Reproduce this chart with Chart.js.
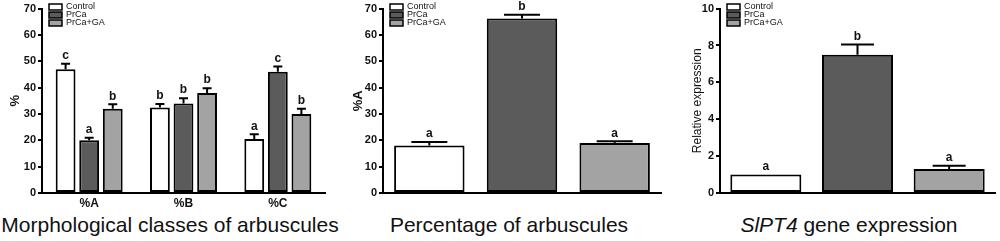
<!DOCTYPE html>
<html lang="en">
<head>
<meta charset="utf-8" />
<script src="https://cdn.jsdelivr.net/npm/chart.js@4.4.1/dist/chart.umd.min.js"></script>
<title>Arbuscules</title>
<style>
  body { margin: 0; background: #fff; width: 1000px; height: 241px; position: relative; overflow: hidden; }
  canvas { position: absolute; top: 0; }
  .cap { position: absolute; top: 213px; height: 26px; line-height: 26px; font: 21px "Liberation Sans", Arial, sans-serif; color: #111; text-align: center; white-space: nowrap; }
</style>
</head>
<body>
<canvas id="g1" width="335" height="212" style="left:0px"></canvas>
<canvas id="g2" width="330" height="212" style="left:340px"></canvas>
<canvas id="g3" width="330" height="212" style="left:670px"></canvas>
<div class="cap" style="left:0px;width:340px">Morphological classes of arbuscules</div>
<div class="cap" style="left:340px;width:338px">Percentage of arbuscules</div>
<div class="cap" style="left:670px;width:358px"><i>SlPT4</i> gene expression</div>
<script>
const groupNames = ["Control", "PrCa", "PrCa+GA"];
const groupFills = ["#ffffff", "#5b5b5b", "#a3a3a3"];

// panel 1 - morphological classes
const classLabels = ["%A", "%B", "%C"];
const classControl = [47, 32.5, 20.5];
const classControlErr = [2.1, 1.3, 1.8];
const classControlSig = ["c", "b", "a"];
const classPrCa = [20, 34, 46];
const classPrCaErr = [1, 2, 2];
const classPrCaSig = ["a", "b", "c"];
const classPrCaGA = [32, 38, 30];
const classPrCaGAErr = [1.7, 1.8, 2];
const classPrCaGASig = ["b", "b", "b"];

// panel 2 - percentage of arbuscules
const pctValues = [18, 66.2, 19];
const pctErr = [1.4, 1.5, 0.6];
const pctSig = ["a", "b", "a"];

// panel 3 - SlPT4 expression
const exprValues = [1.0, 7.5, 1.3];
const exprErr = [0, 0.55, 0.18];
const exprSig = ["a", "b", "a"];

const FONT = "'Liberation Sans', Arial, sans-serif";
Chart.defaults.font.family = FONT;
Chart.defaults.color = "#111";

// error bars + letters above each bar
const errPlugin = {
  id: "errBars",
  afterDatasetsDraw(chart, args, opts) {
    const ctx = chart.ctx;
    const y = chart.scales.y;
    ctx.save();
    chart.data.datasets.forEach((ds, di) => {
      const meta = chart.getDatasetMeta(di);
      meta.data.forEach((bar, i) => {
        const e = ds.errors[i];
        const top = y.getPixelForValue(ds.data[i] + e);
        if (e > 0) {
          ctx.strokeStyle = "#000";
          ctx.lineWidth = 2;
          ctx.beginPath();
          ctx.moveTo(bar.x, bar.y);
          ctx.lineTo(bar.x, top);
          ctx.moveTo(bar.x - opts.capW / 2, top);
          ctx.lineTo(bar.x + opts.capW / 2, top);
          ctx.stroke();
        }
        ctx.fillStyle = "#111";
        ctx.font = "bold 12px " + FONT;
        ctx.textAlign = "center";
        ctx.textBaseline = "bottom";
        ctx.fillText(ds.sig[i], bar.x, top - 2);
      });
    });
    ctx.restore();
  }
};

// small boxed legend inside top-left of the plot
const boxLegend = {
  id: "boxLegend",
  afterDraw(chart, args, opts) {
    const ctx = chart.ctx;
    const x0 = chart.chartArea.left + opts.dx;
    ctx.save();
    groupNames.forEach((name, i) => {
      const yc = 7 + i * 8;
      ctx.fillStyle = groupFills[i];
      ctx.fillRect(x0, yc - 3, 13, 6);
      ctx.strokeStyle = "#000";
      ctx.lineWidth = 1.5;
      ctx.strokeRect(x0, yc - 3, 13, 6);
      ctx.fillStyle = "#111";
      ctx.font = "9px " + FONT;
      ctx.textAlign = "left";
      ctx.textBaseline = "middle";
      ctx.fillText(name, x0 + 17, yc);
    });
    ctx.restore();
  }
};

function yScale(max, step, title, titleFont, width, titlePad) {
  return {
    min: 0, max: max,
    ticks: { stepSize: step, font: { size: 11, weight: "bold" }, color: "#111", padding: 2 },
    grid: { drawOnChartArea: false, drawTicks: true, tickLength: 4, color: "#000", lineWidth: 2 },
    border: { color: "#000", width: 2 },
    title: { display: true, text: title, font: titleFont, color: "#111", padding: { top: titlePad, bottom: 0 } },
    afterFit: (s) => { s.width = width; }
  };
}

function barStyle(fill) {
  return { backgroundColor: fill, borderColor: "#000", borderWidth: 2, borderSkipped: false };
}

const hiddenX = {
  grid: { display: false, drawTicks: false },
  border: { color: "#000", width: 2 },
  ticks: { display: false },
  afterFit: (s) => { s.height = 19; }
};

const baseOpts = {
  responsive: false,
  animation: false,
  plugins: { legend: { display: false }, tooltip: { enabled: false } }
};

new Chart(document.getElementById("g1"), {
  type: "bar",
  data: {
    labels: classLabels,
    datasets: [
      Object.assign({ label: groupNames[0], data: classControl, errors: classControlErr, sig: classControlSig }, barStyle(groupFills[0])),
      Object.assign({ label: groupNames[1], data: classPrCa, errors: classPrCaErr, sig: classPrCaSig }, barStyle(groupFills[1])),
      Object.assign({ label: groupNames[2], data: classPrCaGA, errors: classPrCaGAErr, sig: classPrCaGASig }, barStyle(groupFills[2]))
    ]
  },
  options: Object.assign({}, baseOpts, {
    categoryPercentage: 0.75,
    barPercentage: 0.84,
    layout: { padding: { top: 8, right: 10, left: 0, bottom: 0 } },
    scales: {
      x: {
        grid: { display: false, drawTicks: false },
        border: { color: "#000", width: 2 },
        ticks: { font: { size: 12, weight: "bold" }, color: "#111", padding: 3 },
        afterFit: (s) => { s.height = 19; }
      },
      y: yScale(70, 10, "%", { size: 13, weight: "bold" }, 42, 8)
    },
    plugins: Object.assign({}, baseOpts.plugins, { errBars: { capW: 9 }, boxLegend: { dx: 7 } })
  }),
  plugins: [errPlugin, boxLegend]
});

new Chart(document.getElementById("g2"), {
  type: "bar",
  data: {
    labels: groupNames,
    datasets: [Object.assign({ label: "%A", data: pctValues, errors: pctErr, sig: pctSig }, barStyle(groupFills))]
  },
  options: Object.assign({}, baseOpts, {
    categoryPercentage: 1,
    barPercentage: 0.76,
    layout: { padding: { top: 8, right: 9, left: 0, bottom: 0 } },
    scales: {
      x: hiddenX,
      y: yScale(70, 10, "%A", { size: 13, weight: "bold" }, 43, 11)
    },
    plugins: Object.assign({}, baseOpts.plugins, { errBars: { capW: 36 }, boxLegend: { dx: 7 } })
  }),
  plugins: [errPlugin, boxLegend]
});

new Chart(document.getElementById("g3"), {
  type: "bar",
  data: {
    labels: groupNames,
    datasets: [Object.assign({ label: "Relative expression", data: exprValues, errors: exprErr, sig: exprSig }, barStyle(groupFills))]
  },
  options: Object.assign({}, baseOpts, {
    categoryPercentage: 1,
    barPercentage: 0.775,
    layout: { padding: { top: 8, right: 5, left: 0, bottom: 0 } },
    scales: {
      x: hiddenX,
      y: yScale(10, 2, "Relative expression", { size: 12 }, 50, 20)
    },
    plugins: Object.assign({}, baseOpts.plugins, { errBars: { capW: 33 }, boxLegend: { dx: 7 } })
  }),
  plugins: [errPlugin, boxLegend]
});
</script>
</body>
</html>
